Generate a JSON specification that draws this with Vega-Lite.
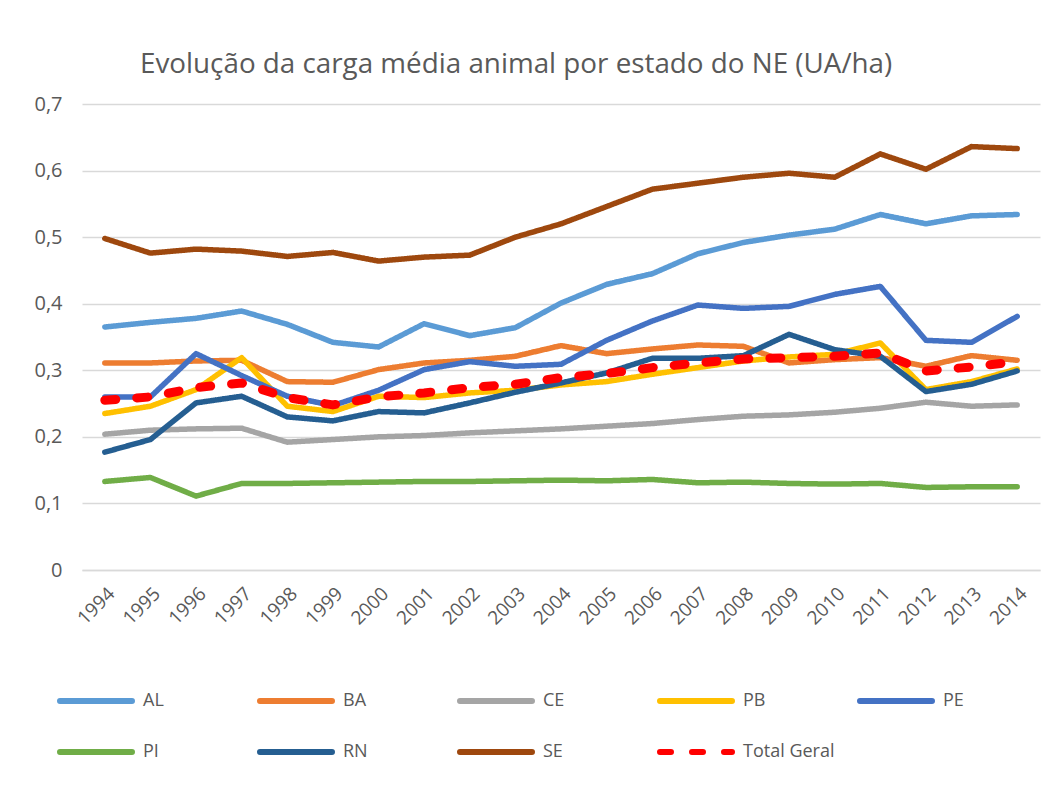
{
  "$schema": "https://vega.github.io/schema/vega-lite/v6.json",
  "width": 958,
  "height": 466,
  "autosize": {"type": "none"},
  "padding": {"left": 82, "top": 104, "right": 22, "bottom": 230},
  "background": "white",
  "config": {"font": "Open Sans", "view": {"stroke": null}},
  "title": {
    "text": "Evolução da carga média animal por estado do NE (UA/ha)",
    "fontSize": 27.8,
    "fontWeight": "normal",
    "color": "#595959",
    "font": "Open Sans",
    "anchor": "start",
    "frame": "group",
    "dx": 58,
    "offset": 15
  },
  "data": {
    "values": [
      {"ano": "1994", "serie": "AL", "valor": 0.365}, {"ano": "1995", "serie": "AL", "valor": 0.372}, {"ano": "1996", "serie": "AL", "valor": 0.378}, {"ano": "1997", "serie": "AL", "valor": 0.389}, {"ano": "1998", "serie": "AL", "valor": 0.369}, {"ano": "1999", "serie": "AL", "valor": 0.342}, {"ano": "2000", "serie": "AL", "valor": 0.335}, {"ano": "2001", "serie": "AL", "valor": 0.370}, {"ano": "2002", "serie": "AL", "valor": 0.352}, {"ano": "2003", "serie": "AL", "valor": 0.364}, {"ano": "2004", "serie": "AL", "valor": 0.401}, {"ano": "2005", "serie": "AL", "valor": 0.429}, {"ano": "2006", "serie": "AL", "valor": 0.445}, {"ano": "2007", "serie": "AL", "valor": 0.475}, {"ano": "2008", "serie": "AL", "valor": 0.492}, {"ano": "2009", "serie": "AL", "valor": 0.503}, {"ano": "2010", "serie": "AL", "valor": 0.512}, {"ano": "2011", "serie": "AL", "valor": 0.534}, {"ano": "2012", "serie": "AL", "valor": 0.520}, {"ano": "2013", "serie": "AL", "valor": 0.532}, {"ano": "2014", "serie": "AL", "valor": 0.534},
      {"ano": "1994", "serie": "BA", "valor": 0.311}, {"ano": "1995", "serie": "BA", "valor": 0.311}, {"ano": "1996", "serie": "BA", "valor": 0.314}, {"ano": "1997", "serie": "BA", "valor": 0.315}, {"ano": "1998", "serie": "BA", "valor": 0.283}, {"ano": "1999", "serie": "BA", "valor": 0.282}, {"ano": "2000", "serie": "BA", "valor": 0.301}, {"ano": "2001", "serie": "BA", "valor": 0.311}, {"ano": "2002", "serie": "BA", "valor": 0.315}, {"ano": "2003", "serie": "BA", "valor": 0.321}, {"ano": "2004", "serie": "BA", "valor": 0.337}, {"ano": "2005", "serie": "BA", "valor": 0.325}, {"ano": "2006", "serie": "BA", "valor": 0.332}, {"ano": "2007", "serie": "BA", "valor": 0.338}, {"ano": "2008", "serie": "BA", "valor": 0.336}, {"ano": "2009", "serie": "BA", "valor": 0.311}, {"ano": "2010", "serie": "BA", "valor": 0.316}, {"ano": "2011", "serie": "BA", "valor": 0.319}, {"ano": "2012", "serie": "BA", "valor": 0.306}, {"ano": "2013", "serie": "BA", "valor": 0.322}, {"ano": "2014", "serie": "BA", "valor": 0.315},
      {"ano": "1994", "serie": "CE", "valor": 0.204}, {"ano": "1995", "serie": "CE", "valor": 0.210}, {"ano": "1996", "serie": "CE", "valor": 0.212}, {"ano": "1997", "serie": "CE", "valor": 0.213}, {"ano": "1998", "serie": "CE", "valor": 0.192}, {"ano": "1999", "serie": "CE", "valor": 0.196}, {"ano": "2000", "serie": "CE", "valor": 0.200}, {"ano": "2001", "serie": "CE", "valor": 0.202}, {"ano": "2002", "serie": "CE", "valor": 0.206}, {"ano": "2003", "serie": "CE", "valor": 0.209}, {"ano": "2004", "serie": "CE", "valor": 0.212}, {"ano": "2005", "serie": "CE", "valor": 0.216}, {"ano": "2006", "serie": "CE", "valor": 0.220}, {"ano": "2007", "serie": "CE", "valor": 0.226}, {"ano": "2008", "serie": "CE", "valor": 0.231}, {"ano": "2009", "serie": "CE", "valor": 0.233}, {"ano": "2010", "serie": "CE", "valor": 0.237}, {"ano": "2011", "serie": "CE", "valor": 0.243}, {"ano": "2012", "serie": "CE", "valor": 0.252}, {"ano": "2013", "serie": "CE", "valor": 0.246}, {"ano": "2014", "serie": "CE", "valor": 0.248},
      {"ano": "1994", "serie": "PB", "valor": 0.235}, {"ano": "1995", "serie": "PB", "valor": 0.246}, {"ano": "1996", "serie": "PB", "valor": 0.271}, {"ano": "1997", "serie": "PB", "valor": 0.319}, {"ano": "1998", "serie": "PB", "valor": 0.246}, {"ano": "1999", "serie": "PB", "valor": 0.238}, {"ano": "2000", "serie": "PB", "valor": 0.261}, {"ano": "2001", "serie": "PB", "valor": 0.259}, {"ano": "2002", "serie": "PB", "valor": 0.266}, {"ano": "2003", "serie": "PB", "valor": 0.270}, {"ano": "2004", "serie": "PB", "valor": 0.278}, {"ano": "2005", "serie": "PB", "valor": 0.283}, {"ano": "2006", "serie": "PB", "valor": 0.294}, {"ano": "2007", "serie": "PB", "valor": 0.304}, {"ano": "2008", "serie": "PB", "valor": 0.314}, {"ano": "2009", "serie": "PB", "valor": 0.320}, {"ano": "2010", "serie": "PB", "valor": 0.324}, {"ano": "2011", "serie": "PB", "valor": 0.341}, {"ano": "2012", "serie": "PB", "valor": 0.271}, {"ano": "2013", "serie": "PB", "valor": 0.283}, {"ano": "2014", "serie": "PB", "valor": 0.302},
      {"ano": "1994", "serie": "PE", "valor": 0.260}, {"ano": "1995", "serie": "PE", "valor": 0.260}, {"ano": "1996", "serie": "PE", "valor": 0.325}, {"ano": "1997", "serie": "PE", "valor": 0.292}, {"ano": "1998", "serie": "PE", "valor": 0.261}, {"ano": "1999", "serie": "PE", "valor": 0.247}, {"ano": "2000", "serie": "PE", "valor": 0.270}, {"ano": "2001", "serie": "PE", "valor": 0.301}, {"ano": "2002", "serie": "PE", "valor": 0.313}, {"ano": "2003", "serie": "PE", "valor": 0.306}, {"ano": "2004", "serie": "PE", "valor": 0.309}, {"ano": "2005", "serie": "PE", "valor": 0.345}, {"ano": "2006", "serie": "PE", "valor": 0.374}, {"ano": "2007", "serie": "PE", "valor": 0.398}, {"ano": "2008", "serie": "PE", "valor": 0.393}, {"ano": "2009", "serie": "PE", "valor": 0.396}, {"ano": "2010", "serie": "PE", "valor": 0.414}, {"ano": "2011", "serie": "PE", "valor": 0.426}, {"ano": "2012", "serie": "PE", "valor": 0.345}, {"ano": "2013", "serie": "PE", "valor": 0.342}, {"ano": "2014", "serie": "PE", "valor": 0.381},
      {"ano": "1994", "serie": "PI", "valor": 0.133}, {"ano": "1995", "serie": "PI", "valor": 0.139}, {"ano": "1996", "serie": "PI", "valor": 0.111}, {"ano": "1997", "serie": "PI", "valor": 0.130}, {"ano": "1998", "serie": "PI", "valor": 0.130}, {"ano": "1999", "serie": "PI", "valor": 0.131}, {"ano": "2000", "serie": "PI", "valor": 0.132}, {"ano": "2001", "serie": "PI", "valor": 0.133}, {"ano": "2002", "serie": "PI", "valor": 0.133}, {"ano": "2003", "serie": "PI", "valor": 0.134}, {"ano": "2004", "serie": "PI", "valor": 0.135}, {"ano": "2005", "serie": "PI", "valor": 0.134}, {"ano": "2006", "serie": "PI", "valor": 0.136}, {"ano": "2007", "serie": "PI", "valor": 0.131}, {"ano": "2008", "serie": "PI", "valor": 0.132}, {"ano": "2009", "serie": "PI", "valor": 0.130}, {"ano": "2010", "serie": "PI", "valor": 0.129}, {"ano": "2011", "serie": "PI", "valor": 0.130}, {"ano": "2012", "serie": "PI", "valor": 0.124}, {"ano": "2013", "serie": "PI", "valor": 0.125}, {"ano": "2014", "serie": "PI", "valor": 0.125},
      {"ano": "1994", "serie": "RN", "valor": 0.177}, {"ano": "1995", "serie": "RN", "valor": 0.196}, {"ano": "1996", "serie": "RN", "valor": 0.251}, {"ano": "1997", "serie": "RN", "valor": 0.261}, {"ano": "1998", "serie": "RN", "valor": 0.230}, {"ano": "1999", "serie": "RN", "valor": 0.224}, {"ano": "2000", "serie": "RN", "valor": 0.238}, {"ano": "2001", "serie": "RN", "valor": 0.236}, {"ano": "2002", "serie": "RN", "valor": 0.251}, {"ano": "2003", "serie": "RN", "valor": 0.267}, {"ano": "2004", "serie": "RN", "valor": 0.281}, {"ano": "2005", "serie": "RN", "valor": 0.296}, {"ano": "2006", "serie": "RN", "valor": 0.318}, {"ano": "2007", "serie": "RN", "valor": 0.318}, {"ano": "2008", "serie": "RN", "valor": 0.322}, {"ano": "2009", "serie": "RN", "valor": 0.354}, {"ano": "2010", "serie": "RN", "valor": 0.331}, {"ano": "2011", "serie": "RN", "valor": 0.321}, {"ano": "2012", "serie": "RN", "valor": 0.268}, {"ano": "2013", "serie": "RN", "valor": 0.279}, {"ano": "2014", "serie": "RN", "valor": 0.299},
      {"ano": "1994", "serie": "SE", "valor": 0.498}, {"ano": "1995", "serie": "SE", "valor": 0.476}, {"ano": "1996", "serie": "SE", "valor": 0.482}, {"ano": "1997", "serie": "SE", "valor": 0.479}, {"ano": "1998", "serie": "SE", "valor": 0.471}, {"ano": "1999", "serie": "SE", "valor": 0.477}, {"ano": "2000", "serie": "SE", "valor": 0.464}, {"ano": "2001", "serie": "SE", "valor": 0.470}, {"ano": "2002", "serie": "SE", "valor": 0.473}, {"ano": "2003", "serie": "SE", "valor": 0.500}, {"ano": "2004", "serie": "SE", "valor": 0.520}, {"ano": "2005", "serie": "SE", "valor": 0.546}, {"ano": "2006", "serie": "SE", "valor": 0.572}, {"ano": "2007", "serie": "SE", "valor": 0.581}, {"ano": "2008", "serie": "SE", "valor": 0.590}, {"ano": "2009", "serie": "SE", "valor": 0.596}, {"ano": "2010", "serie": "SE", "valor": 0.590}, {"ano": "2011", "serie": "SE", "valor": 0.625}, {"ano": "2012", "serie": "SE", "valor": 0.602}, {"ano": "2013", "serie": "SE", "valor": 0.636}, {"ano": "2014", "serie": "SE", "valor": 0.633},
      {"ano": "1994", "serie": "Total Geral", "valor": 0.255}, {"ano": "1995", "serie": "Total Geral", "valor": 0.260}, {"ano": "1996", "serie": "Total Geral", "valor": 0.274}, {"ano": "1997", "serie": "Total Geral", "valor": 0.281}, {"ano": "1998", "serie": "Total Geral", "valor": 0.259}, {"ano": "1999", "serie": "Total Geral", "valor": 0.248}, {"ano": "2000", "serie": "Total Geral", "valor": 0.260}, {"ano": "2001", "serie": "Total Geral", "valor": 0.266}, {"ano": "2002", "serie": "Total Geral", "valor": 0.274}, {"ano": "2003", "serie": "Total Geral", "valor": 0.279}, {"ano": "2004", "serie": "Total Geral", "valor": 0.289}, {"ano": "2005", "serie": "Total Geral", "valor": 0.295}, {"ano": "2006", "serie": "Total Geral", "valor": 0.304}, {"ano": "2007", "serie": "Total Geral", "valor": 0.311}, {"ano": "2008", "serie": "Total Geral", "valor": 0.317}, {"ano": "2009", "serie": "Total Geral", "valor": 0.319}, {"ano": "2010", "serie": "Total Geral", "valor": 0.321}, {"ano": "2011", "serie": "Total Geral", "valor": 0.326}, {"ano": "2012", "serie": "Total Geral", "valor": 0.299}, {"ano": "2013", "serie": "Total Geral", "valor": 0.305}, {"ano": "2014", "serie": "Total Geral", "valor": 0.313}
    ]
  },
  "mark": {"type": "line", "strokeCap": "round", "strokeJoin": "round"},
  "encoding": {
    "x": {
      "field": "ano",
      "type": "ordinal",
      "scale": {"type": "point", "padding": 0.5},
      "axis": {
        "title": null,
        "labelAngle": -45,
        "labelFontSize": 19,
        "labelColor": "#595959",
        "ticks": false,
        "domainColor": "#D9D9D9",
        "domainWidth": 1.5,
        "labelPadding": 14
      }
    },
    "y": {
      "field": "valor",
      "type": "quantitative",
      "scale": {"domain": [0, 0.7], "nice": false},
      "axis": {
        "title": null,
        "domain": false,
        "ticks": false,
        "values": [0, 0.1, 0.2, 0.3, 0.4, 0.5, 0.6, 0.7],
        "labelFontSize": 20,
        "labelColor": "#595959",
        "labelPadding": 20,
        "gridColor": "#D9D9D9",
        "gridWidth": 1.5,
        "labelExpr": "replace(format(datum.value, '.1~f'), '.', ',')"
      }
    },
    "color": {
      "field": "serie",
      "type": "nominal",
      "scale": {
        "domain": ["AL", "BA", "CE", "PB", "PE", "PI", "RN", "SE", "Total Geral"],
        "range": ["#5B9BD5", "#ED7D31", "#A5A5A5", "#FFC000", "#4472C4", "#70AD47", "#255E91", "#9E480E", "#FF0000"]
      },
      "legend": {
        "orient": "none",
        "legendX": -25,
        "legendY": 558,
        "direction": "horizontal",
        "columns": 5,
        "title": null,
        "symbolType": "stroke",
        "symbolSize": 5184,
        "symbolStrokeWidth": 6,
        "labelFontSize": 18,
        "labelColor": "#595959",
        "labelFont": "Open Sans",
        "labelOffset": 8,
        "columnPadding": 13,
        "rowPadding": -21,
        "gridAlign": "all",
        "padding": 0,
        "encode": {"symbols": {"update": {"strokeCap": {"value": "round"}}}}
      }
    },
    "strokeDash": {
      "field": "serie",
      "type": "nominal",
      "scale": {
        "domain": ["AL", "BA", "CE", "PB", "PE", "PI", "RN", "SE", "Total Geral"],
        "range": [[1, 0], [1, 0], [1, 0], [1, 0], [1, 0], [1, 0], [1, 0], [1, 0], [11, 21]]
      },
      "legend": {
        "orient": "none",
        "legendX": -25,
        "legendY": 558,
        "direction": "horizontal",
        "columns": 5,
        "title": null,
        "symbolType": "stroke",
        "symbolSize": 5184,
        "symbolStrokeWidth": 6,
        "labelFontSize": 18,
        "labelColor": "#595959",
        "labelFont": "Open Sans",
        "labelOffset": 8,
        "columnPadding": 13,
        "rowPadding": -21,
        "gridAlign": "all",
        "padding": 0,
        "encode": {"symbols": {"update": {"strokeCap": {"value": "round"}}}}
      }
    },
    "strokeWidth": {
      "condition": {"test": "datum.serie === 'Total Geral'", "value": 9},
      "value": 5.5
    }
  }
}
